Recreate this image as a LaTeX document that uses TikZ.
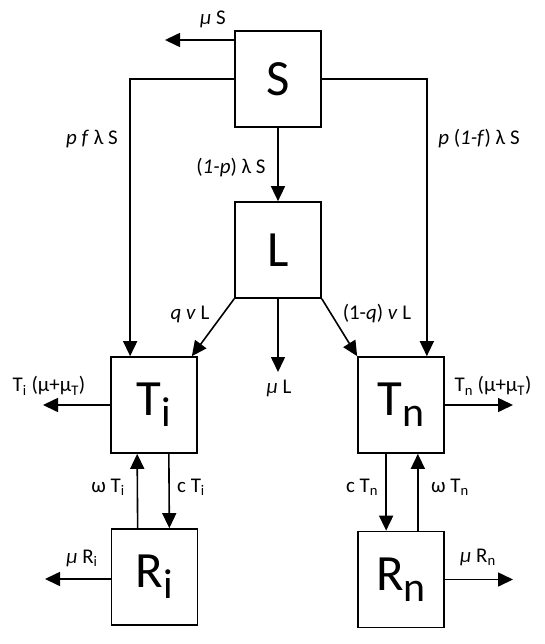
\documentclass[tikz,border=0pt]{standalone}
\usepackage{fontspec}
\setmainfont{Carlito}
\usetikzlibrary{arrows.meta}
\newcommand{\bigsub}[1]{\raisebox{-11bp}{\fontsize{42}{46}\selectfont #1}}

\begin{document}
\begin{tikzpicture}[x=1bp,y=-1bp,
  box/.style={draw, line width=1.7bp, minimum width=86bp, minimum height=96bp, inner sep=0pt, font=\fontsize{51}{56}\selectfont},
  flow/.style={line width=1.6bp, -{Triangle[length=15bp,width=14bp]}},
  rate/.style={inner sep=0pt, font=\fontsize{21}{25}\selectfont}]
  \useasboundingbox (0,0) rectangle (545,644);

  % Compartments
  \node[box] (S) at (278,79) {S};
  \node[box] (L) at (278,250) {L};
  \node[box] (Ti) at (154,405) {T\bigsub{i}};
  \node[box] (Tn) at (401,405) {T\bigsub{n}};
  \node[box] (Ri) at (154.5,577) {R\bigsub{i}};
  \node[box] (Rn) at (401,579.5) {R\bigsub{n}};

  % Outflow ends
  \coordinate (outS) at (165,40);
  \coordinate (outL) at (278,372);
  \coordinate (outTi) at (43,405);
  \coordinate (outTn) at (513,405);
  \coordinate (outRi) at (45,579);
  \coordinate (outRn) at (513,579.5);

  \draw[flow] (S.west |- outS) -- (outS);
  \draw[flow] (S.west) -| ([xshift=20bp]Ti.north west);
  \draw[flow] (S.east) -| ([xshift=-18bp]Tn.north east);
  \draw[flow] (S) -- (L);
  \draw[flow] (L.south west) -- ([xshift=-6bp]Ti.north east);
  \draw[flow] (L.south east) -- (Tn.north west);
  \draw[flow] (L.south) -- (outL);
  \draw[flow] (Ti.west) -- (outTi);
  \draw[flow] (Tn.east) -- (outTn);
  \draw[flow] ([xshift=27bp]Ri.north west) -- ([xshift=27bp]Ti.south west);
  \draw[flow] ([xshift=-29bp]Ti.south east) -- ([xshift=-29bp]Ri.north east);
  \draw[flow] ([xshift=29bp]Tn.south west) -- ([xshift=29bp]Rn.north west);
  \draw[flow] ([xshift=-27bp]Rn.north east) -- ([xshift=-27bp]Tn.south east);
  \draw[flow] (Ri.west |- outRi) -- (outRi);
  \draw[flow] (Rn.east) -- (outRn);

  % Rates
  \node[rate] (rS) at (213,19) {\textit{μ} S};
  \node[rate] (rpf) at (92,139) {\textit{p f} λ S};
  \node[rate] (rpnf) at (479,139) {\textit{p} (\textit{1-f}) λ S};
  \node[rate] (rL) at (231,168) {(\textit{1-p}) λ S};
  \node[rate] (rq) at (190,314) {\textit{q v} L};
  \node[rate] (rnq) at (377,314) {(1-\textit{q}) \textit{v} L};
  \node[rate] (rmL) at (279,388) {\textit{μ} L};
  \node[rate] (rTi) at (49,386) {T\textsubscript{i} (μ+μ\textsubscript{T})};
  \node[rate] (rTn) at (493,386) {T\textsubscript{n} (μ+μ\textsubscript{T})};
  \node[rate] (rwi) at (108,487) {ω T\textsubscript{i}};
  \node[rate] (rci) at (191,487) {c T\textsubscript{i}};
  \node[rate] (rcn) at (362,487) {c T\textsubscript{n}};
  \node[rate] (rwn) at (450,487) {ω T\textsubscript{n}};
  \node[rate] (rRi) at (82,558) {\textit{μ} R\textsubscript{i}};
  \node[rate] (rRn) at (478,557) {\textit{μ} R\textsubscript{n}};
\end{tikzpicture}
\end{document}
